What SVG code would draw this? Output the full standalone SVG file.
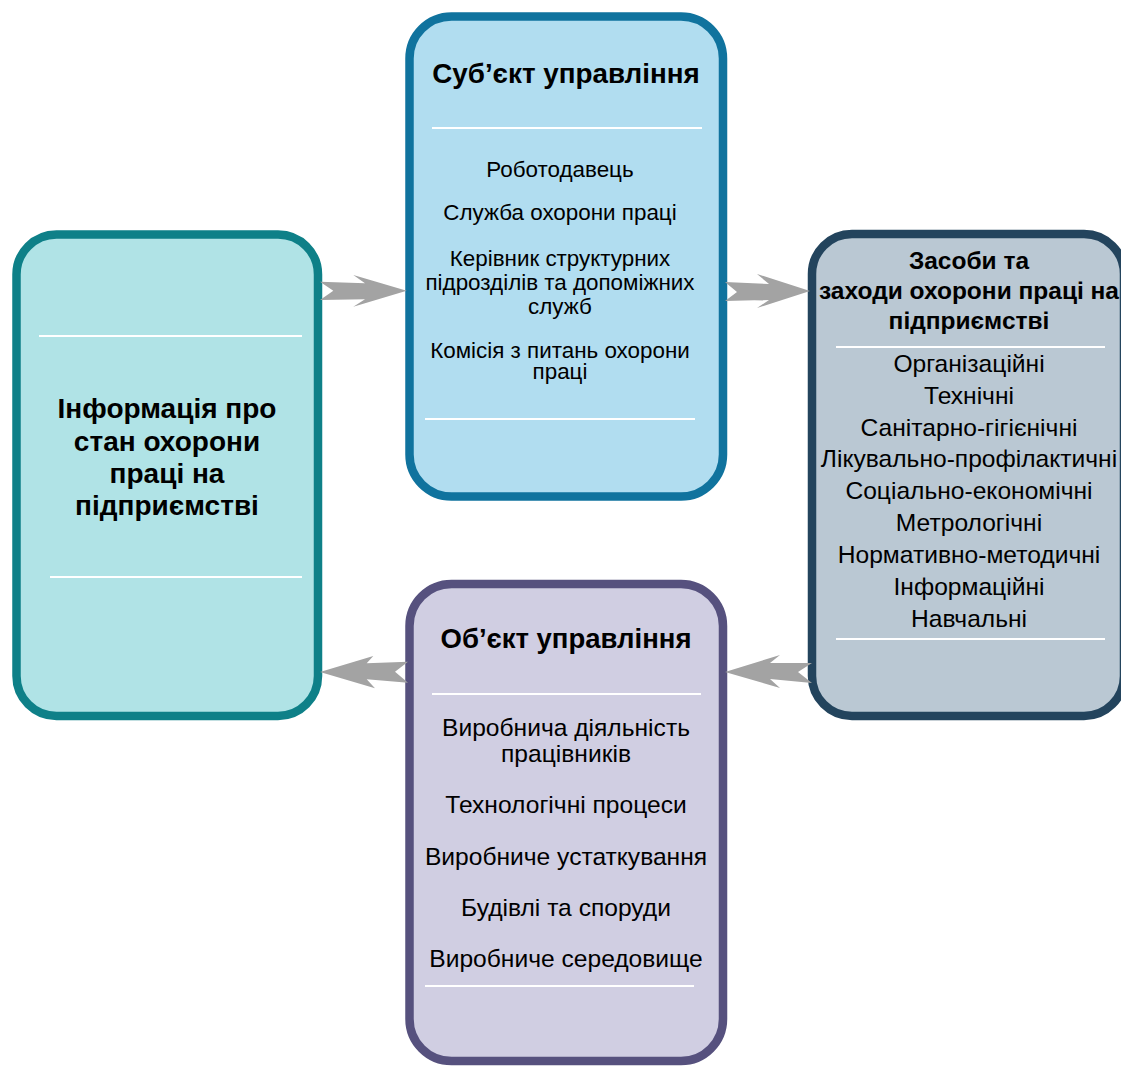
<svg xmlns="http://www.w3.org/2000/svg" width="1121" height="1066" viewBox="0 0 1121 1066">
<style>
.box{stroke-width:8.5}
.sep{stroke:#ffffff;stroke-width:2}
text{font-family:"Liberation Sans",Arial,sans-serif;fill:#000;text-anchor:middle}
.t{font-weight:bold}
.arr{fill:#a3a3a3}
</style>
<rect width="1121" height="1066" fill="#ffffff"/>
<g id="info">
<rect class="box" x="16.5" y="234.5" width="301.5" height="481.5" rx="40" fill="#b0e3e6" stroke="#0e8088"/>
<line class="sep" x1="39" y1="336" x2="302" y2="336"/>
<line class="sep" x1="50" y1="577" x2="302" y2="577"/>
<text class="t" font-size="28"><tspan x="167" y="418">Інформація про</tspan><tspan x="167" y="450.5">стан охорони</tspan><tspan x="167" y="483">праці на</tspan><tspan x="167" y="515">підприємстві</tspan></text>
</g>
<g id="subject">
<rect class="box" x="409.5" y="16.5" width="313.5" height="480" rx="42" fill="#b1ddf0" stroke="#10739e"/>
<line class="sep" x1="432" y1="128" x2="702" y2="128"/>
<line class="sep" x1="425" y1="419" x2="695" y2="419"/>
<text class="t" x="566" y="83" font-size="27.8">Суб’єкт управління</text>
<text font-size="22.4"><tspan x="560" y="177">Роботодавець</tspan><tspan x="560" y="220">Служба охорони праці</tspan><tspan x="560" y="266">Керівник структурних</tspan><tspan x="560" y="290">підрозділів та допоміжних</tspan><tspan x="560" y="314">служб</tspan><tspan x="560" y="358">Комісія з питань охорони</tspan><tspan x="560" y="379">праці</tspan></text>
</g>
<g id="means">
<rect class="box" x="812" y="234" width="312" height="482" rx="40" fill="#bac8d3" stroke="#23445d"/>
<line class="sep" x1="836" y1="347" x2="1105" y2="347"/>
<line class="sep" x1="836" y1="639" x2="1105" y2="639"/>
<text class="t" font-size="24.5"><tspan x="969" y="269">Засоби та</tspan><tspan x="969" y="299">заходи охорони праці на</tspan><tspan x="969" y="329">підприємстві</tspan></text>
<text font-size="24.6"><tspan x="969" y="372">Організаційні</tspan><tspan x="969" y="404">Технічні</tspan><tspan x="969" y="436">Санітарно-гігієнічні</tspan><tspan x="969" y="467">Лікувально-профілактичні</tspan><tspan x="969" y="499">Соціально-економічні</tspan><tspan x="969" y="531">Метрологічні</tspan><tspan x="969" y="563">Нормативно-методичні</tspan><tspan x="969" y="595">Інформаційні</tspan><tspan x="969" y="627">Навчальні</tspan></text>
</g>
<g id="object">
<rect class="box" x="409.5" y="584" width="313.5" height="477" rx="42" fill="#d0cee2" stroke="#56517e"/>
<line class="sep" x1="432" y1="694" x2="701" y2="694"/>
<line class="sep" x1="425" y1="986" x2="694" y2="986"/>
<text class="t" x="566" y="648" font-size="27.5">Об’єкт управління</text>
<text font-size="24.6"><tspan x="566" y="736">Виробнича діяльність</tspan><tspan x="566" y="762">працівників</tspan><tspan x="566" y="813">Технологічні процеси</tspan><tspan x="566" y="865">Виробниче устаткування</tspan><tspan x="566" y="916">Будівлі та споруди</tspan><tspan x="566" y="967">Виробниче середовище</tspan></text>
</g>
<g id="connectors">
<polygon class="arr" points="320,281.7 365,283.3 353.3,275 406.7,290.7 353.3,306.7 365,299.3 320,300 333.3,290.7"/>
<polygon class="arr" points="725,282 769,284 757,274 810,291 757,308 769,300 725,301 737,292"/>
<polygon class="arr" points="320,672 373.3,656 366.7,663.3 408,661.7 395,671.7 408,682.7 366.7,679.3 375,688.3"/>
<polygon class="arr" points="725,672 780,655 770,663 812,663 798,672 812,683 770,679 780,688"/>
</g>
</svg>
